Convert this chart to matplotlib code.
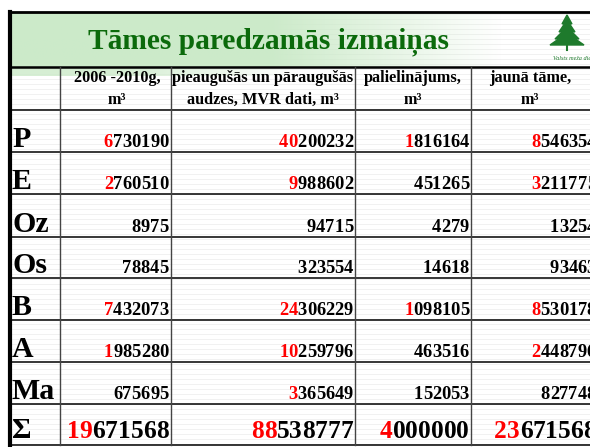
import numpy as np
import matplotlib
matplotlib.use('Agg')
from matplotlib import pyplot as plt
from matplotlib.patches import Polygon

plt.rcParams['font.family'] = ['Liberation Serif', 'DejaVu Serif']

title = 'Tāmes paredzamās izmaiņas'
headers = [('2006 -2010g,', 'm³'),
           ('pieaugušās un pāraugušās', 'audzes, MVR dati, m³'),
           ('palielinājums,', 'm³'),
           ('jaunā tāme,', 'm³')]
labels = ['P', 'E', 'Oz', 'Os', 'B', 'A', 'Ma', 'Σ']
col1 = [6730190, 2760510, 8975, 78845, 7432073, 1985280, 675695, 19671568]
col2 = [40200232, 9988602, 94715, 323554, 24306229, 10259796, 3365649, 88538777]
col3 = [1816164, 451265, 4279, 14618, 1098105, 463516, 152053, 4000000]
col4 = [8546354, 3211775, 13254, 93463, 8530178, 2448796, 827748, 23671568]

W, H = 590, 447
fig = plt.figure(figsize=(5.9, 4.47), dpi=100)
ax = fig.add_axes([0, 0, 1, 1])

# faint ruled background
for y in np.arange(14, H, 5):
    ax.plot([10, W], [y, y], color='#efefef', lw=0.6, zorder=0)

# title band gradient
xs = np.linspace(0, 1, 300)
img = np.ones((1, 300, 4))
img[..., 0] = 0.80
img[..., 1] = 0.92
img[..., 2] = 0.79
img[..., 3] = np.clip((0.85 - xs) / 0.4, 0, 1)
ax.imshow(img, extent=[10, W, 67, 12], aspect='auto', zorder=1)
img2 = img.copy()
img2[..., 3] = np.clip((0.5 - xs) / 0.3, 0, 1) * 0.8
ax.imshow(img2, extent=[10, W, 76, 67], aspect='auto', zorder=1)
ax.set_xlim(0, W)
ax.set_ylim(H, 0)
ax.axis('off')

ax.text(268, 42, title, color='#0b6a0b', fontsize=21.2, fontweight='bold',
        ha='center', va='center', zorder=5)

# logo
tree = [(567, 15), (572, 24), (569, 23), (575, 32), (571, 31), (579, 39),
        (574, 38), (584, 45), (550, 45), (560, 38), (555, 39), (563, 31),
        (559, 32), (565, 23), (562, 24)]
ax.add_patch(Polygon(tree, closed=True, color='#1e7a2c', zorder=5))
ax.plot([567, 567], [46, 50], color='#1e7a2c', lw=1.5, zorder=5)
ax.text(553, 58, 'Valsts meža dienests', color='#1e7a2c', fontsize=4.5,
        style='italic', ha='left', va='center', zorder=5, clip_on=True)

# borders and grid
ax.plot([10, 10], [12, H], color='black', lw=3, zorder=6)
ax.plot([10, W], [12, 12], color='black', lw=2, zorder=6)
ax.plot([10, W], [67, 67], color='black', lw=1.8, zorder=6)
row_lines = [110, 152, 194, 237, 278, 320, 362, 404, 445]
for y in row_lines:
    ax.plot([10, W], [y, y], color='black', lw=1.1, zorder=6)
col_lines = [60, 171, 355, 471]
for x in col_lines:
    ax.plot([x, x], [67, 445], color='#444444', lw=1.0, zorder=6)

# headers
centers = [117, 263, 413, 530]
for cx, (l1, l2) in zip(centers, headers):
    ax.text(cx, 78, l1, fontsize=11.7, fontweight='bold', ha='center',
            va='center', zorder=7)
    ax.text(cx, 100, l2, fontsize=11.7, fontweight='bold', ha='center',
            va='center', zorder=7)

rights = [168.5, 353, 469, 596]
columns = [col1, col2, col3, col4]
for i, lab in enumerate(labels):
    last = i == len(labels) - 1
    base = row_lines[i + 1] - (7 if last else 5)
    ax.text(12, base, lab, fontsize=21.5, fontweight='bold', ha='left',
            va='baseline', zorder=7)
    fs = 18.3 if last else 13.3
    adv = fs * 0.5 * 100 / 72  # Times digits are 0.5 em wide
    for col, xr in zip(columns, rights):
        s = str(col[i])
        n_red = len(s) - 6 if len(s) > 6 else 0  # millions shown in red
        for k, ch in enumerate(s):
            cx = xr - (len(s) - k - 0.5) * adv
            ax.text(cx, base, ch, fontsize=fs, fontweight='bold',
                    ha='center', va='baseline', zorder=7, clip_on=True,
                    color='#ff0000' if k < n_red else 'black')

fig.savefig('out.png', dpi=100)
